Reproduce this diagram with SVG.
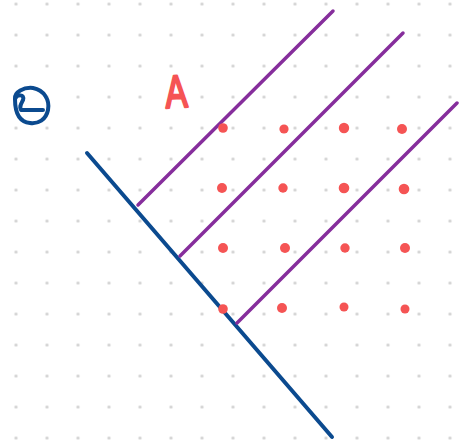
<svg xmlns="http://www.w3.org/2000/svg" width="459" height="443" viewBox="0 0 459 443">
<defs>
<pattern id="grid" x="0.5" y="-11.5" width="31" height="31" patternUnits="userSpaceOnUse">
<circle cx="15.5" cy="15.5" r="1.6" fill="#d0d0d0"/>
</pattern>
<style>
.blue{stroke:#0b4a8f;stroke-width:4;fill:none;stroke-linecap:round;stroke-linejoin:round}
.purple{stroke:#862e9c;stroke-width:3.5;fill:none;stroke-linecap:round}
.pt{fill:#f55454}
.lbl{font-family:"Liberation Sans",Arial,sans-serif;font-size:46px;fill:#f55454;stroke:#f55454;stroke-width:2.5;stroke-linejoin:round}
</style>
</defs>
<rect width="459" height="443" fill="#ffffff"/>
<rect width="459" height="443" fill="url(#grid)"/>
<g id="theta">
<path class="blue" d="M 15 99 C 17 94, 25 94, 23 100 C 21 104, 19 107, 21 110 L 43 110"/>
<path class="blue" d="M 15 99 C 14 92, 24 87, 33 88 C 44 90, 50 100, 48 110 C 46 120, 38 124, 30 123 C 20 122, 15 114, 15 99"/>
</g>
<g id="label-A">
<text class="lbl" transform="translate(166 108) rotate(-3) scale(0.72 1)" x="0" y="0">A</text>
</g>
<g id="connectors">
<line class="blue" x1="87" y1="153" x2="332" y2="437"/>
<line class="purple" x1="138" y1="205" x2="333" y2="11"/>
<line class="purple" x1="180" y1="256" x2="403" y2="33"/>
<line class="purple" x1="237" y1="323" x2="457" y2="103"/>
</g>
<g id="points">
<circle class="pt" cx="223" cy="128" r="4.8"/>
<circle class="pt" cx="284" cy="129" r="4.6"/>
<circle class="pt" cx="344" cy="128" r="5.2"/>
<circle class="pt" cx="402" cy="129" r="5"/>
<circle class="pt" cx="222" cy="188" r="5"/>
<circle class="pt" cx="283" cy="188" r="4.7"/>
<circle class="pt" cx="344" cy="188" r="5.3"/>
<circle class="pt" cx="404" cy="189" r="5.3"/>
<circle class="pt" cx="223" cy="248" r="5"/>
<circle class="pt" cx="285" cy="248" r="5"/>
<circle class="pt" cx="345" cy="248" r="4.7"/>
<circle class="pt" cx="405" cy="248" r="5"/>
<circle class="pt" cx="223" cy="309" r="4.8"/>
<circle class="pt" cx="282" cy="308" r="5"/>
<circle class="pt" cx="344" cy="307" r="4.5"/>
<circle class="pt" cx="405" cy="309" r="4.5"/>
</g>
</svg>
